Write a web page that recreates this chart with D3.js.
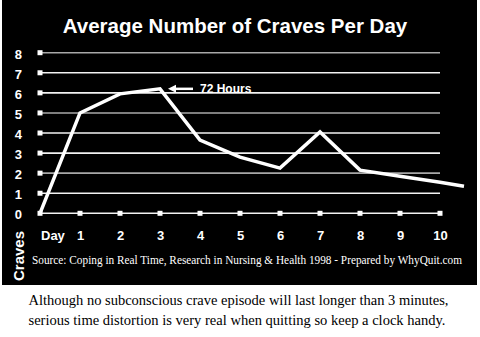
<!DOCTYPE html>
<html><head><meta charset="utf-8">
<script src="https://cdn.jsdelivr.net/npm/d3@7"></script>
<style>html,body{margin:0;padding:0;background:#fff;}svg{display:block;}</style>
</head><body>
<script>
const title = "Average Number of Craves Per Day";
const days = [0, 1, 2, 3, 4, 5, 6, 7, 8, 9, 10, 10.6];
const craves = [0, 5.0, 5.95, 6.2, 3.65, 2.8, 2.25, 4.05, 2.15, 1.85, 1.55, 1.35];
const dayTicks = [1, 2, 3, 4, 5, 6, 7, 8, 9, 10];
const yTicks = [0, 1, 2, 3, 4, 5, 6, 7, 8];
const grayLines = [8, 5, 2];
const annotation = "72 Hours";
const annotationDay = 3;
const sourceText = "Source:  Coping in Real Time, Research in Nursing & Health 1998 - Prepared by WhyQuit.com";
const caption = ["Although no subconscious crave episode will last longer than 3 minutes,",
                 "serious time distortion is very real when quitting so keep a clock handy."];

const W = 480, H = 337;
const svg = d3.select("body").append("svg").attr("width", W).attr("height", H);
svg.append("rect").attr("x", 2).attr("y", 0).attr("width", 475).attr("height", 285).attr("fill", "#000");

const x = d3.scaleLinear().domain([0, 10]).range([40, 440]);
const y = d3.scaleLinear().domain([0, 8]).range([213.3, 52.7]);

svg.append("text").attr("x", 235).attr("y", 33).attr("text-anchor", "middle")
  .attr("font-family", "Liberation Sans, Arial, sans-serif").attr("font-weight", "bold")
  .attr("font-size", 20.5).attr("fill", "#fff").text(title);

// gridlines
svg.append("g").selectAll("line").data(yTicks).join("line")
  .attr("x1", x(0)).attr("x2", x(10))
  .attr("y1", d => y(d)).attr("y2", d => y(d))
  .attr("stroke", d => grayLines.includes(d) ? "#a8a8a8" : "#f2f2f2")
  .attr("stroke-width", 1.6);

// y axis markers and labels
const yAxis = d3.axisLeft(y).tickValues(yTicks).tickSize(0).tickPadding(0);
const gy = svg.append("g").attr("transform", "translate(24,0)").call(yAxis);
gy.select(".domain").remove();
gy.selectAll("text").attr("fill", "#fff").attr("font-family", "Liberation Sans, Arial, sans-serif")
  .attr("font-weight", "bold").attr("font-size", 13).attr("dy", "0.42em").attr("x", -2);

svg.append("g").selectAll("rect").data(yTicks).join("rect")
  .attr("x", x(0) - 2.5).attr("y", d => y(d) - 2.5).attr("width", 5).attr("height", 5).attr("fill", "#fff");

// x axis
svg.append("g").selectAll("rect").data(dayTicks).join("rect")
  .attr("x", d => x(d) - 2.5).attr("y", y(0) - 2.5).attr("width", 5).attr("height", 5).attr("fill", "#fff");

const xAxis = d3.axisBottom(x).tickValues(dayTicks).tickSize(0).tickPadding(0);
const gx = svg.append("g").attr("transform", "translate(0,230)").call(xAxis);
gx.select(".domain").remove();
gx.selectAll("text").attr("fill", "#fff").attr("font-family", "Liberation Sans, Arial, sans-serif")
  .attr("font-weight", "bold").attr("font-size", 13).attr("dy", "0.75em");

svg.append("text").attr("x", 41).attr("y", 240)
  .attr("font-family", "Liberation Sans, Arial, sans-serif").attr("font-weight", "bold")
  .attr("font-size", 13).attr("fill", "#fff").text("Day");

svg.append("text").attr("transform", "translate(23.5,256) rotate(-90)").attr("text-anchor", "middle")
  .attr("font-family", "Liberation Sans, Arial, sans-serif").attr("font-weight", "bold")
  .attr("font-size", 15).attr("fill", "#fff").text("Craves");

// data line
const line = d3.line().x((d, i) => x(days[i])).y(d => y(d));
svg.append("path").attr("d", line(craves)).attr("fill", "none").attr("stroke", "#fff")
  .attr("stroke-width", 3.5).attr("stroke-linejoin", "miter");

// annotation
const ay = y(craves[days.indexOf(annotationDay)]) ;
const ax = x(annotationDay) + 8;
svg.append("line").attr("x1", ax + 6).attr("x2", ax + 25).attr("y1", ay).attr("y2", ay)
  .attr("stroke", "#fff").attr("stroke-width", 2.5);
svg.append("path").attr("d", `M${ax},${ay} L${ax + 8},${ay - 4} L${ax + 8},${ay + 4} Z`).attr("fill", "#fff");
svg.append("text").attr("x", ax + 32).attr("y", ay + 4)
  .attr("font-family", "Liberation Sans, Arial, sans-serif").attr("font-weight", "bold")
  .attr("font-size", 12).attr("fill", "#fff").text(annotation);

// source
svg.append("text").attr("x", 32).attr("y", 264).attr("textLength", 430).attr("lengthAdjust", "spacingAndGlyphs")
  .attr("font-family", "Liberation Serif, Times New Roman, serif").attr("font-size", 12)
  .attr("fill", "#fff").text(sourceText);

// caption
svg.append("g").selectAll("text").data(caption).join("text")
  .attr("x", 28.5).attr("y", (d, i) => 305 + i * 19.5)
  .attr("textLength", (d, i) => i === 0 ? 420 : 417).attr("lengthAdjust", "spacingAndGlyphs")
  .attr("font-family", "Liberation Serif, Times New Roman, serif").attr("font-size", 14.5)
  .attr("fill", "#000").text(d => d);
</script>
</body></html>
